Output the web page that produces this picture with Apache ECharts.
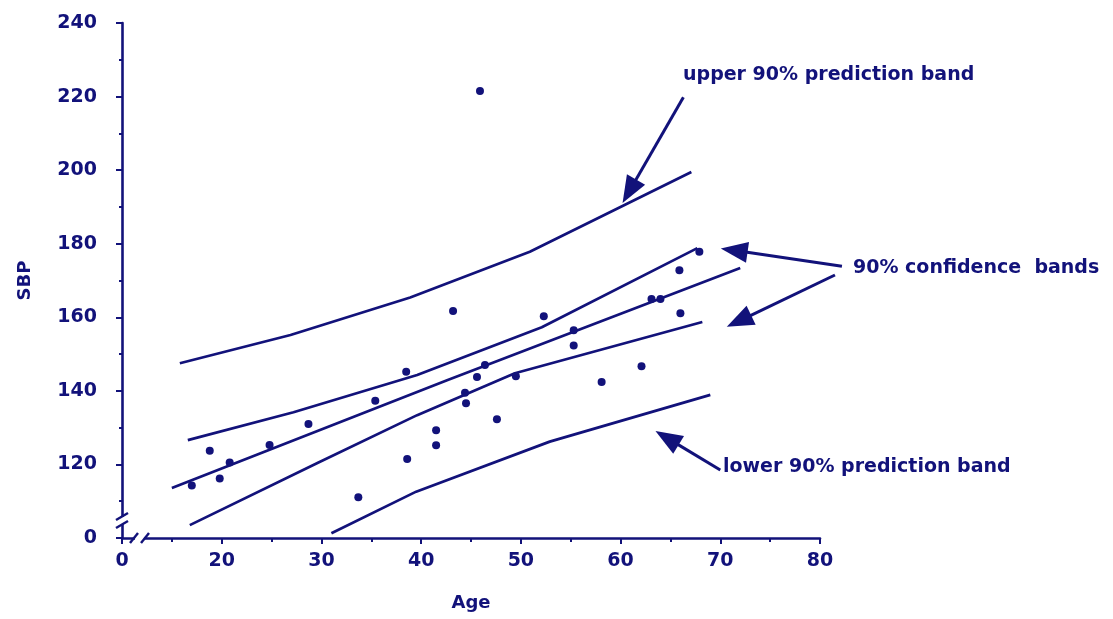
<!DOCTYPE html>
<html><head><meta charset="utf-8">
<script src="https://cdn.jsdelivr.net/npm/echarts@6/dist/echarts.min.js"></script>
<style>html,body{margin:0;padding:0;background:#fff}#c{width:1113px;height:619px}</style>
</head><body><div id="c"></div>
<script>
// ---- data ----
const ageValues = [17.0,18.8,19.8,20.8,24.8,28.7,33.7,35.4,38.5,38.6,41.5,41.5,43.2,44.4,44.5,45.6,45.9,46.4,47.6,49.5,52.3,55.3,55.3,58.1,62.1,63.1,64.0,65.9,66.0,67.9];
const sbpValues = [114.3,123.7,116.2,120.5,125.3,131.0,111.1,137.3,145.2,121.5,129.3,125.2,161.7,139.5,136.6,143.8,221.5,147.0,132.3,144.0,160.3,156.5,152.3,142.4,146.7,165.0,165.0,172.8,161.1,177.8];
const fitAge = [15.0, 42.6, 72.0];
const fitSbp = [113.6, 142.9, 173.4];
const upperConfAge = [16.6, 27.2, 39.6, 52.1, 67.7];
const upperConfSbp = [126.6, 134.2, 144.3, 157.3, 178.8];
const lowerConfAge = [16.8, 29.6, 39.6, 49.4, 68.2];
const lowerConfSbp = [103.5, 120.4, 133.4, 144.8, 158.7];
const upperPredAge = [15.8, 26.9, 38.9, 50.9, 67.1];
const upperPredSbp = [147.5, 155.2, 165.4, 177.8, 199.5];
const lowerPredAge = [31.0, 39.5, 52.9, 69.0];
const lowerPredSbp = [101.3, 112.6, 126.2, 138.9];
const xTickValues = [10, 20, 30, 40, 50, 60, 70, 80];
const xTickLabels = ['0', '20', '30', '40', '50', '60', '70', '80'];
const yTickValues = [100, 120, 140, 160, 180, 200, 220, 240];
const yTickLabels = ['0', '120', '140', '160', '180', '200', '220', '240'];
const annotationTexts = ['upper 90% prediction band', '90% confidence  bands', 'lower 90% prediction band'];
// arrows in data coordinates
const arrowStarts = [[66.3, 219.8], [82.2, 173.9], [81.5, 171.5], [70.0, 118.5]];
const arrowTips   = [[60.2, 191.1], [70.05, 178.7], [70.65, 157.4], [63.5, 129.1]];

const INK = '#12127a';
const FONT = 'DejaVu Sans';
const zip = (a, b) => a.map((v, i) => [v, b[i]]);
const lbl = (vals, labs) => v => { const i = vals.indexOf(v); return i >= 0 ? labs[i] : ''; };

const chart = echarts.init(document.getElementById('c'), null, {renderer: 'canvas'});
const lineSeries = (data) => ({
  type: 'line', data, showSymbol: false, symbol: 'none', smooth: false,
  lineStyle: {color: INK, width: 2.7, opacity: 1}, z: 3, clip: false
});
chart.setOption({
  animation: false,
  backgroundColor: '#ffffff',
  grid: {left: 122, right: 293, top: 23, bottom: 81, containLabel: false},
  xAxis: {
    type: 'value', min: 10, max: 80, interval: 10,
    name: 'Age', nameLocation: 'middle', nameGap: 56,
    nameTextStyle: {color: INK, fontSize: 18, fontWeight: 'bold', fontFamily: FONT},
    axisLine: {show: true, lineStyle: {color: INK, width: 2.6}},
    axisTick: {show: true, length: 6, lineStyle: {color: INK, width: 2}},
    minorTick: {show: true, splitNumber: 2, length: 4, lineStyle: {color: INK, width: 2}},
    axisLabel: {color: INK, fontSize: 19, fontWeight: 'bold', fontFamily: FONT, margin: 14,
      formatter: lbl(xTickValues, xTickLabels)},
    splitLine: {show: false}
  },
  yAxis: {
    type: 'value', min: 100, max: 240, interval: 20,
    name: 'SBP', nameLocation: 'middle', nameGap: 88, nameRotate: 90,
    nameTextStyle: {color: INK, fontSize: 18, fontWeight: 'bold', fontFamily: FONT},
    axisLine: {show: true, lineStyle: {color: INK, width: 2.6}},
    axisTick: {show: true, length: 6, lineStyle: {color: INK, width: 2}},
    minorTick: {show: true, splitNumber: 2, length: 3, lineStyle: {color: INK, width: 2}},
    axisLabel: {color: INK, fontSize: 19, fontWeight: 'bold', fontFamily: FONT, margin: 25,
      formatter: lbl(yTickValues, yTickLabels)},
    splitLine: {show: false}
  },
  series: [
    lineSeries(zip(upperPredAge, upperPredSbp)),
    lineSeries(zip(upperConfAge, upperConfSbp)),
    lineSeries(zip(fitAge, fitSbp)),
    lineSeries(zip(lowerConfAge, lowerConfSbp)),
    lineSeries(zip(lowerPredAge, lowerPredSbp)),
    {type: 'scatter', data: zip(ageValues, sbpValues), symbol: 'circle', symbolSize: 8,
      itemStyle: {color: INK, opacity: 1}, z: 4}
  ]
});

// ---- decorations: axis breaks, annotation arrows and texts ----
const px = p => chart.convertToPixel({gridIndex: 0}, p);
const O = px([10, 100]);
const g = [];
// y-axis break
g.push({type: 'rect', shape: {x: O[0] - 5, y: O[1] - 21, width: 10, height: 7}, style: {fill: '#fff'}, z: 10});
[O[1] - 22, O[1] - 14].forEach(cy => g.push({type: 'line', shape: {x1: O[0] - 6, y1: cy + 4, x2: O[0] + 6, y2: cy - 3},
  style: {stroke: INK, lineWidth: 2.4}, z: 11}));
// x-axis break
g.push({type: 'rect', shape: {x: O[0] + 13, y: O[1] - 4, width: 9, height: 8}, style: {fill: '#fff'}, z: 10});
[O[0] + 12, O[0] + 23].forEach(cx => g.push({type: 'line', shape: {x1: cx - 4, y1: O[1] + 5, x2: cx + 4, y2: O[1] - 5},
  style: {stroke: INK, lineWidth: 2.4}, z: 11}));
// arrows
arrowStarts.forEach((s, i) => {
  const S = px(s), T = px(arrowTips[i]);
  const dx = T[0] - S[0], dy = T[1] - S[1], len = Math.hypot(dx, dy);
  const ux = dx / len, uy = dy / len, nx = -uy, ny = ux;
  const L = 27, W = 21;
  const B = [T[0] - ux * L, T[1] - uy * L];
  g.push({type: 'line', shape: {x1: S[0], y1: S[1], x2: B[0] + ux * 2, y2: B[1] + uy * 2},
    style: {stroke: INK, lineWidth: 3}, z: 12});
  g.push({type: 'polygon', shape: {points: [T, [B[0] + nx * W / 2, B[1] + ny * W / 2], [B[0] - nx * W / 2, B[1] - ny * W / 2]]},
    style: {fill: INK}, z: 12});
});
// annotation texts
const textPos = [[683, 75], [853, 268], [723, 467]];
annotationTexts.forEach((t, i) => g.push({type: 'text', x: textPos[i][0], y: textPos[i][1],
  style: {text: t, fill: INK, fontSize: 19, fontWeight: 'bold', fontFamily: FONT, verticalAlign: 'middle', align: 'left'}, z: 12}));
chart.setOption({graphic: g});
</script>
</body></html>
